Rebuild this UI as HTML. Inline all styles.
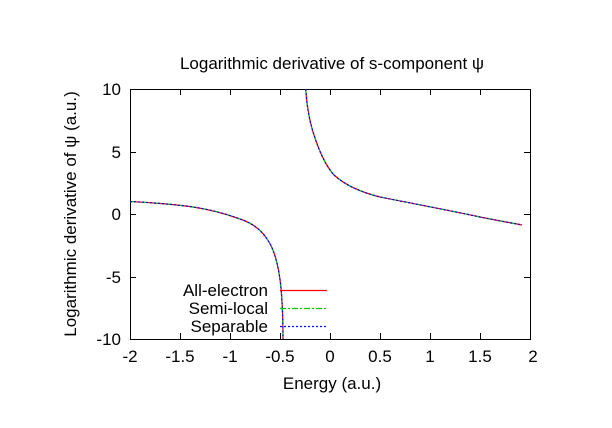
<!DOCTYPE html>
<html><head><style>
body{margin:0;background:#fff}
svg{display:block;font-family:"Liberation Sans",sans-serif}
</style></head><body>
<svg id="s" width="612" height="428" viewBox="0 0 612 428" xmlns="http://www.w3.org/2000/svg">
<rect width="612" height="428" fill="#fff"/>
<g stroke="#000" stroke-width="1" fill="none">
<rect x="130.5" y="89.5" width="400" height="250"/>
<path d="M130 152.5h6M530 152.5h-6M130 214.5h6M530 214.5h-6M130 277.5h6M530 277.5h-6"/>
<path d="M180.5 339v-6M180.5 89v6M230.5 339v-6M230.5 89v6M280.5 339v-6M280.5 89v6M330.5 339v-6M330.5 89v6M380.5 339v-6M380.5 89v6M430.5 339v-6M430.5 89v6M480.5 339v-6M480.5 89v6"/>
</g>
<g font-size="17" fill="#000" text-anchor="end">
<text x="121" y="95">10</text><text x="121" y="158">5</text><text x="121" y="220">0</text>
<text x="121" y="283">-5</text><text x="121" y="345">-10</text>
</g>
<g font-size="17" fill="#000" text-anchor="middle">
<text x="130" y="362">-2</text><text x="180" y="362">-1.5</text><text x="230" y="362">-1</text>
<text x="280" y="362">-0.5</text><text x="330" y="362">0</text><text x="380" y="362">0.5</text>
<text x="430" y="362">1</text><text x="480" y="362">1.5</text><text x="533" y="362">2</text>
<text x="332" y="389">Energy (a.u.)</text>
<text x="332" y="69">Logarithmic derivative of s-component ψ</text>
<text transform="translate(76 214) rotate(-90)">Logarithmic derivative of ψ (a.u.)</text>
</g>
<g font-size="17" fill="#000" text-anchor="end">
<text x="268" y="296">All-electron</text>
<text x="268" y="314">Semi-local</text>
<text x="268" y="332">Separable</text>
</g>
<defs>
<path id="l" d="M130,201.5 C150,202.5 170,204 190,206.5 C210,209.5 225,213.5 240,219 C255,224 263,232 269,242 C275,252 279,268 281,288 C282.5,305 283,322 283,339"/>
<path id="r" d="M305.7,89 C307,108 310,124 315,138 C320,153 326,166 334,175 C345,185 360,192 380,197 C410,203 450,210.5 480,217 C500,221 512,223 522,225"/>
</defs>
<g fill="none" stroke-width="1.2">
<use href="#l" stroke="#f00"/><use href="#r" stroke="#f00"/>
<use href="#l" stroke="#0c0" stroke-dasharray="6 2 2 2"/><use href="#r" stroke="#0c0" stroke-dasharray="6 2 2 2"/>
<use href="#l" stroke="#00f" stroke-dasharray="2 2"/><use href="#r" stroke="#00f" stroke-dasharray="2 2"/>
<path d="M280 290.5h47" stroke="#f00"/>
<path d="M280 308.5h47" stroke="#0c0" stroke-dasharray="6 2 2 2"/>
<path d="M280 326.5h47" stroke="#00f" stroke-dasharray="2 2"/>
</g>
</svg>
</body></html>
